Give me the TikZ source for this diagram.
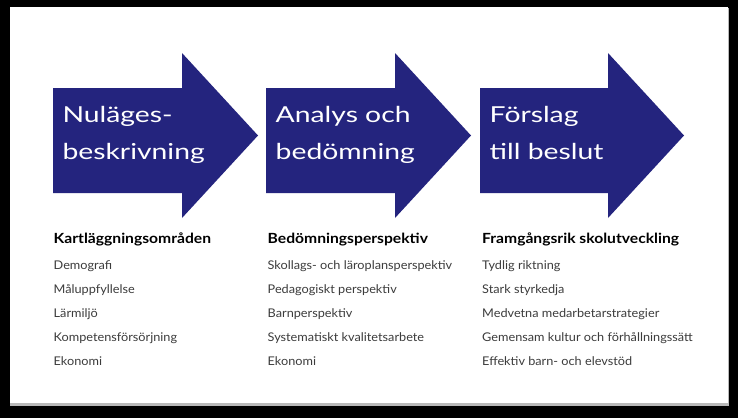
\documentclass[tikz,border=0pt]{standalone}
\usepackage{fontspec}
\usepackage{graphicx}
\setmainfont{Lato}
\definecolor{navy}{RGB}{36,36,126}
\definecolor{itemgray}{RGB}{60,60,60}
\newcommand\arrfont{\fontsize{22}{22}\selectfont}
\newcommand\hdfont{\bfseries\fontsize{14}{14}\selectfont}
\newcommand\itfont{\fontsize{12}{12}\selectfont}
\newlength\mwa \newlength\mwh \newlength\mwhh \newlength\mwi \newlength\mwii
\newcommand\A[1]{\scalebox{\arrsx}[1]{#1}}
\newcommand\Hd[1]{\scalebox{\hdsx}[1]{#1}}
\newcommand\It[1]{\scalebox{\itsx}[1]{#1}}
\begin{document}
\settowidth\mwa{\arrfont beskrivning}%
\settowidth\mwh{\hdfont Bedömningsperspektiv}%
\settowidth\mwhh{\hdfont Framgångsrik skolutveckling}%
\settowidth\mwi{\itfont Skollags- och läroplansperspektiv}%
\settowidth\mwii{\itfont Gemensam kultur och förhållningssätt}%
\pgfmathsetmacro\arrsx{142.3/\mwa}%
\pgfmathsetmacro\hdsx{(161/\mwh+196/\mwhh)/2}%
\pgfmathsetmacro\itsx{(185/\mwi+210/\mwii)/2}%
\begin{tikzpicture}[x=1pt,y=-1pt,
  arrowshape/.style={fill=navy},
  arrowtext/.style={anchor=base west,inner sep=0pt,text=white,font=\arrfont},
  headtext/.style={anchor=base west,inner sep=0pt,text=black,font=\hdfont},
  itemtext/.style={anchor=base west,inner sep=0pt,text=itemgray,font=\itfont}]
\useasboundingbox (0,0) rectangle (738,418);
\fill[black] (0,0) rectangle (738,418);
\fill[gray!55] (10,8) rectangle (729,405.5);
\fill[white] (10,7) rectangle (728,403);
% arrows
\foreach \L/\H/\T in {53/182/258, 266/395/471, 480/608/684}{
  \fill[arrowshape] (\L,88) -- (\H,88) -- (\H,53) -- (\T,135.5) -- (\H,218) -- (\H,193) -- (\L,193) -- cycle;
}
\node[arrowtext] (a1a) at (62.3,122) {\A{Nuläges-}};
\node[arrowtext] (a1b) at (62.3,159) {\A{beskrivning}};
\node[arrowtext] (a2a) at (275.5,122) {\A{Analys och}};
\node[arrowtext] (a2b) at (275.5,159) {\A{bedömning}};
\node[arrowtext] (a3a) at (489.5,122) {\A{Förslag}};
\node[arrowtext] (a3b) at (489.5,159) {\A{till beslut}};
% column 1
\node[headtext] (h1) at (53.5,243.3) {\Hd{Kartläggningsområden}};
\node[itemtext] (i11) at (53.5,269.3) {\It{Demografi}};
\node[itemtext] (i12) at (53.5,293.3) {\It{Måluppfyllelse}};
\node[itemtext] (i13) at (53.5,317.3) {\It{Lärmiljö}};
\node[itemtext] (i14) at (53.5,341.5) {\It{Kompetensförsörjning}};
\node[itemtext] (i15) at (53.5,365.3) {\It{Ekonomi}};
% column 2
\node[headtext] (h2) at (267.5,243.3) {\Hd{Bedömningsperspektiv}};
\node[itemtext] (i21) at (267.5,269.3) {\It{Skollags- och läroplansperspektiv}};
\node[itemtext] (i22) at (267.5,293.3) {\It{Pedagogiskt perspektiv}};
\node[itemtext] (i23) at (267.5,317.3) {\It{Barnperspektiv}};
\node[itemtext] (i24) at (267.5,341.5) {\It{Systematiskt kvalitetsarbete}};
\node[itemtext] (i25) at (267.5,365.3) {\It{Ekonomi}};
% column 3
\node[headtext] (h3) at (482,243.3) {\Hd{Framgångsrik skolutveckling}};
\node[itemtext] (i31) at (482,269.3) {\It{Tydlig riktning}};
\node[itemtext] (i32) at (482,293.3) {\It{Stark styrkedja}};
\node[itemtext] (i33) at (482,317.3) {\It{Medvetna medarbetarstrategier}};
\node[itemtext] (i34) at (482,341.5) {\It{Gemensam kultur och förhållningssätt}};
\node[itemtext] (i35) at (482,365.3) {\It{Effektiv barn- och elevstöd}};
\end{tikzpicture}
\end{document}
